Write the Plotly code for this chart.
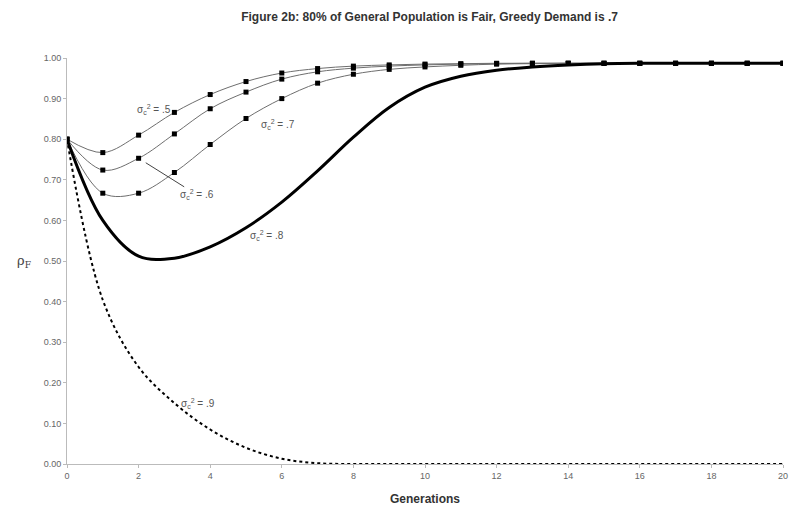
import plotly.graph_objects as go

generations = list(range(0, 21))

rho_s05 = [0.80, 0.767, 0.810, 0.866, 0.910, 0.942, 0.963, 0.974, 0.980, 0.983, 0.985,
           0.986, 0.987, 0.987, 0.987, 0.987, 0.987, 0.987, 0.987, 0.987, 0.987]
rho_s06 = [0.80, 0.724, 0.753, 0.813, 0.875, 0.916, 0.948, 0.966, 0.975, 0.980, 0.983,
           0.985, 0.986, 0.987, 0.987, 0.987, 0.987, 0.987, 0.987, 0.987, 0.987]
rho_s07 = [0.80, 0.667, 0.667, 0.718, 0.787, 0.851, 0.900, 0.938, 0.960, 0.972, 0.978,
           0.982, 0.985, 0.986, 0.987, 0.987, 0.987, 0.987, 0.987, 0.987, 0.987]
rho_s08 = [0.80, 0.600, 0.512, 0.507, 0.535, 0.582, 0.645, 0.722, 0.805, 0.878, 0.928,
           0.955, 0.970, 0.978, 0.983, 0.986, 0.987, 0.987, 0.987, 0.987, 0.987]
rho_s09 = [0.80, 0.404, 0.239, 0.150, 0.085, 0.040, 0.013, 0.002, 0.0, 0.0, 0.0,
           0.0, 0.0, 0.0, 0.0, 0.0, 0.0, 0.0, 0.0, 0.0, 0.0]

x_ticks = list(range(0, 21, 2))
y_ticks = [0.0, 0.1, 0.2, 0.3, 0.4, 0.5, 0.6, 0.7, 0.8, 0.9, 1.0]

fig = go.Figure()

for vals in (rho_s05, rho_s06, rho_s07):
    fig.add_trace(go.Scatter(
        x=generations, y=vals, mode="lines+markers",
        line=dict(color="#6e6e6e", width=1, shape="spline"),
        marker=dict(symbol="square", size=5, color="black"),
        showlegend=False))

fig.add_trace(go.Scatter(
    x=generations, y=rho_s08, mode="lines",
    line=dict(color="black", width=3, shape="spline"),
    showlegend=False))

fig.add_trace(go.Scatter(
    x=generations, y=rho_s09, mode="lines",
    line=dict(color="black", width=2, dash="dot", shape="spline"),
    showlegend=False))

lab_font = dict(family="Arial, Liberation Sans, sans-serif", size=10, color="#555555")

def lab(txt, x, y):
    fig.add_annotation(x=x, y=y, text=txt, showarrow=False, font=lab_font,
                       xref="x", yref="y")

lab("σ<sub>c</sub><sup>2</sup> = .5", 2.43, 0.872)
lab("σ<sub>c</sub><sup>2</sup> = .7", 5.9, 0.835)
lab("σ<sub>c</sub><sup>2</sup> = .8", 5.58, 0.564)
lab("σ<sub>c</sub><sup>2</sup> = .9", 3.66, 0.148)
fig.add_annotation(x=2.2, y=0.742, ax=3.63, ay=0.663, axref="x", ayref="y",
                   xref="x", yref="y", text="σ<sub>c</sub><sup>2</sup> = .6",
                   showarrow=True, arrowhead=0, arrowwidth=1, arrowcolor="#444444",
                   font=lab_font)

fig.add_annotation(xref="paper", yref="y", x=-0.072, y=0.50, text="ρ<sub>F</sub>",
                   showarrow=False, font=dict(family="DejaVu Serif, serif", size=13, color="#444444"))

fig.update_layout(
    width=803, height=523,
    margin=dict(l=67, r=20, t=58, b=59),
    paper_bgcolor="white", plot_bgcolor="white",
    title=dict(text="<b>Figure 2b: 80% of General Population is Fair, Greedy Demand is .7</b>",
               x=0.535, xanchor="center", y=0.967, yanchor="middle",
               font=dict(family="Arial, Liberation Sans, sans-serif", size=12, color="#333333")),
    xaxis=dict(range=[0, 20], tickvals=x_ticks, showgrid=False, zeroline=False,
               showline=True, linecolor="#bbbbbb", linewidth=1,
               ticks="outside", ticklen=3, tickcolor="#bbbbbb",
               tickfont=dict(family="Arial, Liberation Sans, sans-serif", size=9, color="#666666"),
               title=dict(text="<b>Generations</b>", standoff=14,
                          font=dict(family="Arial, Liberation Sans, sans-serif", size=12, color="#333333"))),
    yaxis=dict(range=[0, 1.0], tickvals=y_ticks, tickformat=".2f", showgrid=False, zeroline=False,
               showline=True, linecolor="#bbbbbb", linewidth=1,
               ticks="outside", ticklen=3, tickcolor="#bbbbbb",
               tickfont=dict(family="Arial, Liberation Sans, sans-serif", size=9, color="#666666")),
)

fig.write_html("out.html")
